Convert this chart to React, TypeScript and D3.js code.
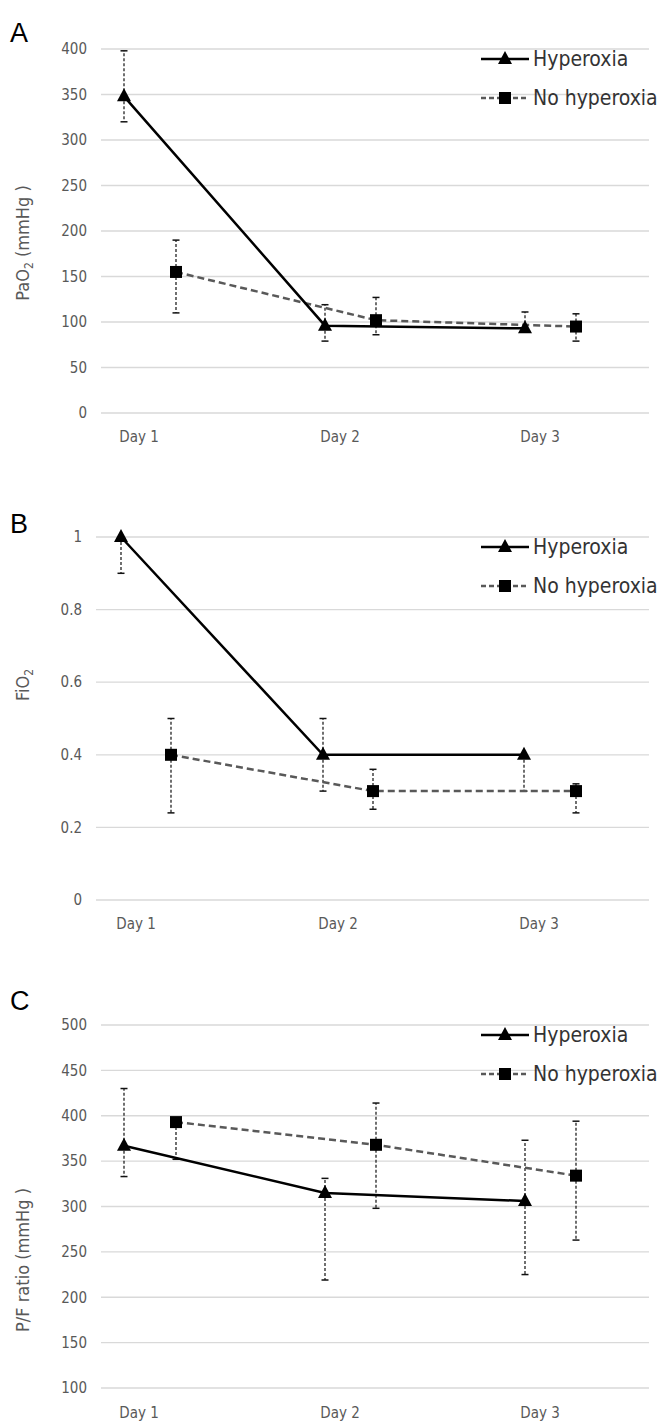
import React from "react";
import * as d3 from "d3";

const days = ["Day 1", "Day 2", "Day 3"];
const paoHyper = [348, 96, 93];
const paoHyperLo = [320, 79, null];
const paoHyperHi = [398, 119, 111];
const paoNo = [155, 102, 95];
const paoNoLo = [110, 86, 79];
const paoNoHi = [190, 127, 109];

const fioHyper = [1.0, 0.4, 0.4];
const fioHyperLo = [0.9, 0.3, 0.3];
const fioHyperHi = [null, 0.5, null];
const fioNo = [0.4, 0.3, 0.3];
const fioNoLo = [0.24, 0.25, 0.24];
const fioNoHi = [0.5, 0.36, 0.32];

const pfHyper = [367, 315, 306];
const pfHyperLo = [333, 219, 225];
const pfHyperHi = [430, 331, 373];
const pfNo = [393, 368, 334];
const pfNoLo = [352, 298, 263];
const pfNoHi = [null, 414, 394];

const paoTicks = [0, 50, 100, 150, 200, 250, 300, 350, 400];
const fioTicks = [0, 0.2, 0.4, 0.6, 0.8, 1];
const pfTicks = [100, 150, 200, 250, 300, 350, 400, 450, 500];

type Cfg = {
  letter: string; letterY: number; yTop: number; yBot: number; dom: [number, number];
  ticks: number[]; gridX0: number; labelY: number; legY: number; yLabel: React.ReactNode; yLabelY: number;
  hx: number[]; nx: number[];
  h: number[]; hl: (number | null)[]; hh: (number | null)[];
  n: number[]; nl: (number | null)[]; nh: (number | null)[];
  fmt: (v: number) => string;
};

const tickFont = "'Liberation Sans Narrow', 'DejaVu Sans Condensed', sans-serif";

function Panel({ c }: { c: Cfg }) {
  const y = d3.scaleLinear().domain(c.dom).range([c.yBot, c.yTop]);
  const line = d3.line<[number, number]>().x(d => d[0]).y(d => y(d[1]));
  const err = (xs: number[], v: number[], lo: (number | null)[], hi: (number | null)[], k: string) =>
    xs.map((x, i) => {
      const els: React.ReactNode[] = [];
      [lo[i], hi[i]].forEach((e, j) => {
        if (e == null) return;
        els.push(<line key={k + i + "v" + j} x1={x} x2={x} y1={y(v[i])} y2={y(e)} stroke="#111" strokeWidth={1.2} strokeDasharray="3,2" />);
        els.push(<line key={k + i + "c" + j} x1={x - 3.5} x2={x + 3.5} y1={y(e)} y2={y(e)} stroke="#111" strokeWidth={1.5} />);
      });
      return els;
    });
  const tri = (x: number, yy: number, k: string) => (
    <path key={k} d={`M${x},${yy - 8}L${x + 7},${yy + 5}L${x - 7},${yy + 5}Z`} fill="#000" />
  );
  const sq = (x: number, yy: number, k: string) => <rect key={k} x={x - 6} y={yy - 6} width={12} height={12} fill="#000" />;
  return (
    <g>
      <text x={10} y={c.letterY} fontSize={27} fontFamily="'Liberation Sans', Arial, sans-serif">{c.letter}</text>
      {c.ticks.map(t => (
        <g key={t}>
          <line x1={c.gridX0} x2={649} y1={y(t)} y2={y(t)} stroke="#d9d9d9" strokeWidth={1.3} />
          <text x={c.gridX0 - 14} y={y(t)} dy="0.35em" textAnchor="end" fontSize={15} fill="#595959" fontFamily={tickFont}>{c.fmt(t)}</text>
        </g>
      ))}
      {days.map((d, i) => (
        <text key={d} x={c.hx[i] + 15} y={c.labelY} textAnchor="middle" fontSize={15} fill="#595959" fontFamily={tickFont}>{d}</text>
      ))}
      <text transform={`translate(29,${c.yLabelY}) rotate(-90)`} textAnchor="middle" fontSize={18} fill="#595959" fontFamily={tickFont}>{c.yLabel}</text>
      {err(c.hx, c.h, c.hl, c.hh, "h")}
      {err(c.nx, c.n, c.nl, c.nh, "n")}
      <path d={line(c.nx.map((x, i) => [x, c.n[i]]) as any) || ""} fill="none" stroke="#595959" strokeWidth={2.5} strokeDasharray="7,4" />
      <path d={line(c.hx.map((x, i) => [x, c.h[i]]) as any) || ""} fill="none" stroke="#000" strokeWidth={2.5} />
      {c.hx.map((x, i) => tri(x, y(c.h[i]), "t" + i))}
      {c.nx.map((x, i) => sq(x, y(c.n[i]), "s" + i))}
      <line x1={481} x2={529} y1={c.legY} y2={c.legY} stroke="#000" strokeWidth={2.5} />
      {tri(505, c.legY, "lt")}
      <text x={533} y={c.legY} dy="0.35em" fontSize={21} fill="#333" fontFamily={tickFont}>Hyperoxia</text>
      <line x1={481} x2={529} y1={c.legY + 39} y2={c.legY + 39} stroke="#595959" strokeWidth={2.5} strokeDasharray="5,3" />
      {sq(505, c.legY + 39, "ls")}
      <text x={533} y={c.legY + 39} dy="0.35em" fontSize={21} fill="#333" fontFamily={tickFont}>No hyperoxia</text>
    </g>
  );
}

const xsH = [124, 325, 525];
const xsN = [176, 376, 576];

export default function App() {
  const panels: Cfg[] = [
    { letter: "A", letterY: 42, yTop: 49, yBot: 413, dom: [0, 400], ticks: paoTicks, gridX0: 101, labelY: 442, legY: 59,
      yLabel: <>PaO<tspan fontSize={12} dy="4">2</tspan><tspan dy="-4"> (mmHg )</tspan></>, yLabelY: 243,
      hx: xsH, nx: xsN, h: paoHyper, hl: paoHyperLo, hh: paoHyperHi, n: paoNo, nl: paoNoLo, nh: paoNoHi, fmt: v => String(v) },
    { letter: "B", letterY: 533, yTop: 537, yBot: 900, dom: [0, 1], ticks: fioTicks, gridX0: 96, labelY: 929, legY: 547,
      yLabel: <>FiO<tspan fontSize={12} dy="4">2</tspan></>, yLabelY: 685,
      hx: [121, 323, 524], nx: [171, 373, 576], h: fioHyper, hl: fioHyperLo, hh: fioHyperHi, n: fioNo, nl: fioNoLo, nh: fioNoHi,
      fmt: v => String(v) },
    { letter: "C", letterY: 1010, yTop: 1025, yBot: 1388, dom: [100, 500], ticks: pfTicks, gridX0: 101, labelY: 1418, legY: 1035,
      yLabel: <>P/F ratio (mmHg )</>, yLabelY: 1260,
      hx: xsH, nx: xsN, h: pfHyper, hl: pfHyperLo, hh: pfHyperHi, n: pfNo, nl: pfNoLo, nh: pfNoHi, fmt: v => String(v) },
  ];
  return (
    <svg width={657} height={1421} style={{ position: "absolute", left: 0, top: 0, background: "#fff" }}>
      <rect width={657} height={1421} fill="#fff" />
      {panels.map(p => <Panel key={p.letter} c={p} />)}
    </svg>
  );
}
